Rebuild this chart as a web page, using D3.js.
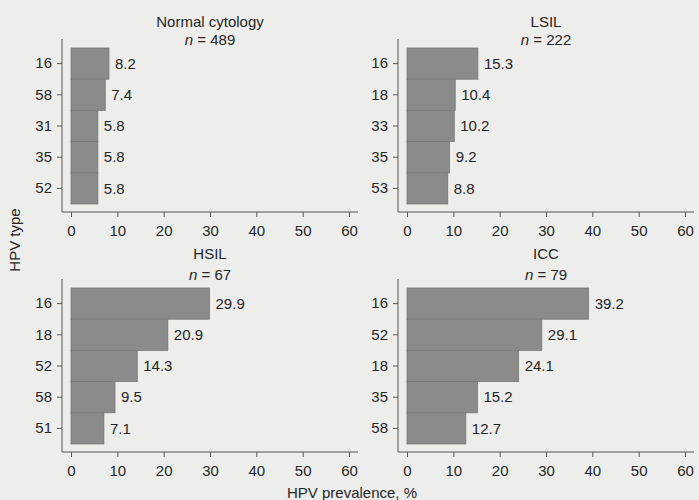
<!DOCTYPE html>
<html lang="en">
<head>
    <meta charset="UTF-8">
    <title>HPV type prevalence by cytology</title>
    <script src="https://d3js.org/d3.v7.min.js"></script>
    <style>
        body { margin: 0; background: #ededeb; }
        svg { display: block; background: #ededeb; }
        text { font-family: "Liberation Sans", Arial, sans-serif; fill: #262626; }
        .axis line { stroke: #555; }
        .axis text { font-size: 15px; fill: #262626; }
        .bar { fill: #8b8b8b; stroke: #787878; stroke-width: 0.8px; }
        .value { font-size: 15px; }
        .title { font-size: 15px; }
    </style>
</head>
<body>
    <svg width="699" height="500"></svg>
    <script>
        // Data
        const groups = ["Normal cytology", "LSIL", "HSIL", "ICC"];
        const groupN = [489, 222, 67, 79];
        const hpvTypes = [
            ["16", "58", "31", "35", "52"],
            ["16", "18", "33", "35", "53"],
            ["16", "18", "52", "58", "51"],
            ["16", "52", "18", "35", "58"]
        ];
        const prevalence = [
            [8.2, 7.4, 5.8, 5.8, 5.8],
            [15.3, 10.4, 10.2, 9.2, 8.8],
            [29.9, 20.9, 14.3, 9.5, 7.1],
            [39.2, 29.1, 24.1, 15.2, 12.7]
        ];
        const xTicks = [0, 10, 20, 30, 40, 50, 60];

        const svg = d3.select("svg");

        // panel geometry (relative to the y-axis line / top of the y-axis)
        const panelW = 296, plotH = 173;
        const origins = [[62, 39], [398, 39], [62, 279], [398, 279]];
        const titleOffsets = [[-12, 6], [-12, 6], [-20, 1], [-20, 1]];

        const x = d3.scaleLinear().domain([0, 60]).range([9, 287]);

        groups.forEach((name, i) => {
            const g = svg.append("g")
                .attr("transform", `translate(${origins[i][0]},${origins[i][1]})`);

            const y = d3.scaleBand()
                .domain(hpvTypes[i])
                .range([9, 165])
                .padding(0);

            const rows = hpvTypes[i].map((t, j) => ({ type: t, value: prevalence[i][j] }));

            // bars
            g.selectAll(".bar")
                .data(rows)
                .enter()
                .append("rect")
                .attr("class", "bar")
                .attr("x", x(0))
                .attr("y", d => y(d.type))
                .attr("width", d => x(d.value) - x(0))
                .attr("height", y.bandwidth());

            // value labels
            g.selectAll(".value")
                .data(rows)
                .enter()
                .append("text")
                .attr("class", "value")
                .attr("x", d => x(d.value) + 6)
                .attr("y", d => y(d.type) + y.bandwidth() / 2)
                .attr("dy", "0.35em")
                .text(d => d.value.toFixed(1));

            // axes
            const yAxis = g.append("g")
                .attr("class", "axis")
                .call(d3.axisLeft(y).tickSize(5).tickPadding(5));
            yAxis.select(".domain").remove();

            const xAxis = g.append("g")
                .attr("class", "axis")
                .attr("transform", `translate(0,${plotH})`)
                .call(d3.axisBottom(x).tickValues(xTicks).tickSize(5).tickPadding(8));
            xAxis.select(".domain").remove();

            g.append("line")
                .attr("x1", 0).attr("x2", 0)
                .attr("y1", 0).attr("y2", plotH)
                .attr("stroke", "#555");
            g.append("line")
                .attr("x1", 0).attr("x2", panelW)
                .attr("y1", plotH).attr("y2", plotH)
                .attr("stroke", "#555");

            // titles
            g.append("text")
                .attr("class", "title")
                .attr("x", x(30))
                .attr("y", titleOffsets[i][0])
                .attr("text-anchor", "middle")
                .text(name);
            const nt = g.append("text")
                .attr("class", "title")
                .attr("x", x(30))
                .attr("y", titleOffsets[i][1])
                .attr("text-anchor", "middle");
            nt.append("tspan").attr("font-style", "italic").text("n");
            nt.append("tspan").text(" = " + groupN[i]);
        });

        // shared axis titles
        svg.append("text")
            .attr("class", "title")
            .attr("transform", "translate(20,240) rotate(-90)")
            .attr("text-anchor", "middle")
            .text("HPV type");

        svg.append("text")
            .attr("class", "title")
            .attr("x", 352)
            .attr("y", 498)
            .attr("text-anchor", "middle")
            .text("HPV prevalence, %");
    </script>
</body>
</html>
